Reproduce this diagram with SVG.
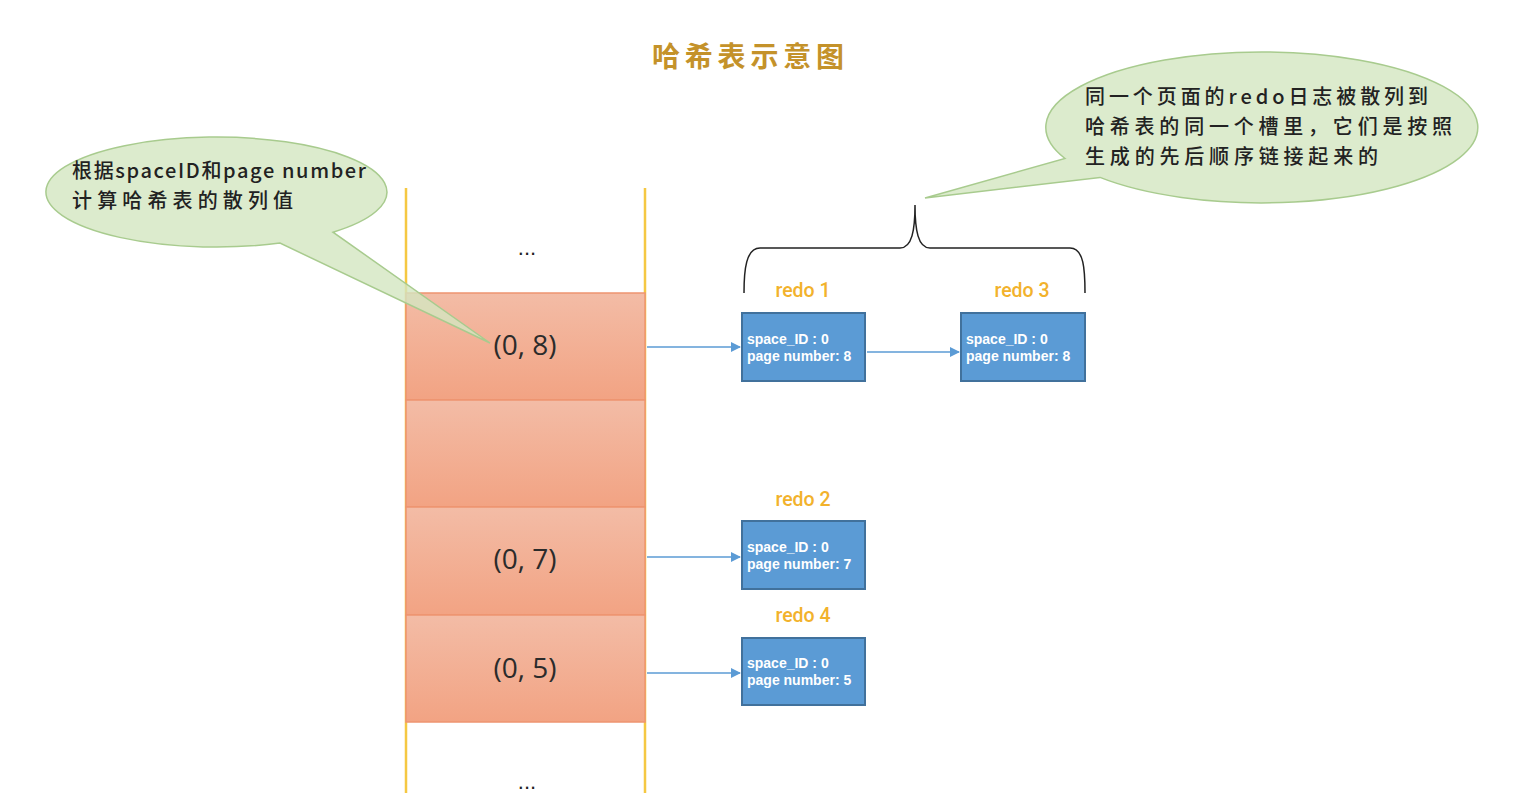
<svg xmlns="http://www.w3.org/2000/svg" width="1533" height="793" viewBox="0 0 1533 793">
<defs>
<linearGradient id="cellGrad" x1="0" y1="0" x2="0" y2="1">
<stop offset="0" stop-color="#F3BCA6"/>
<stop offset="1" stop-color="#F2A383"/>
</linearGradient>
<marker id="arrow" viewBox="0 0 10 10" refX="9" refY="5" markerWidth="10" markerHeight="10" markerUnits="userSpaceOnUse" orient="auto">
<path d="M0,0 L10,5 L0,10 z" fill="#5B9BD5"/>
</marker>
</defs>
<style>
.cell{fill:url(#cellGrad);stroke:#EE9470;stroke-width:1.5}
.rail{stroke:#F5C842;stroke-width:2.5}
.box{fill:#5B9BD5;stroke:#41719C;stroke-width:2}
.boxtxt{font-family:"Liberation Sans",Arial,sans-serif;font-size:14px;font-weight:bold;fill:#FFFFFF}
.redo{font-family:Roboto,"Liberation Sans",Arial,sans-serif;font-size:19.5px;font-weight:500;fill:#F2B22C}
.key{font-family:"Open Sans","Liberation Sans",sans-serif;font-size:28px;fill:#2B2B2B;text-anchor:middle}
.dots{font-family:"Liberation Sans",sans-serif;font-size:22px;fill:#222;text-anchor:middle}
.conn{stroke:#5B9BD5;stroke-width:1.3;fill:none;marker-end:url(#arrow)}
.callout{fill:#D3E6C1;fill-opacity:0.8;stroke:#A8CB8E;stroke-width:1.5}
.ctext{font-family:"Noto Sans CJK SC","Noto Sans",sans-serif;font-size:20px;font-weight:500;fill:#222}
</style>
<rect width="1533" height="793" fill="#FFFFFF"/>

<g id="title">
<text x="748" y="67" text-anchor="middle" font-family="'Noto Sans CJK SC',sans-serif" font-size="28" font-weight="bold" fill="#C4922A" textLength="192" lengthAdjust="spacing">哈希表示意图</text>
</g>

<g id="hashtable">
<line class="rail" x1="406" y1="188" x2="406" y2="793"/>
<line class="rail" x1="645" y1="188" x2="645" y2="793"/>
<text class="dots" x="527" y="255">...</text>
<rect class="cell" x="406" y="293" width="239" height="107"/>
<rect class="cell" x="406" y="400" width="239" height="107"/>
<rect class="cell" x="406" y="507" width="239" height="108"/>
<rect class="cell" x="406" y="615" width="239" height="107"/>
<text class="key" x="525" y="355">(0, 8)</text>
<text class="key" x="525" y="569">(0, 7)</text>
<text class="key" x="525" y="678">(0, 5)</text>
<text class="dots" x="527" y="789">...</text>
</g>

<g id="connectors">
<line class="conn" x1="647" y1="347" x2="740" y2="347"/>
<line class="conn" x1="867" y1="352" x2="959" y2="352"/>
<line class="conn" x1="647" y1="557" x2="740" y2="557"/>
<line class="conn" x1="647" y1="673" x2="740" y2="673"/>
</g>

<g id="redo1">
<text class="redo" x="803" y="297" text-anchor="middle">redo 1</text>
<rect class="box" x="742" y="313" width="123" height="68"/>
<text class="boxtxt" x="747" y="344">space_ID : 0</text>
<text class="boxtxt" x="747" y="361">page number: 8</text>
</g>

<g id="redo3">
<text class="redo" x="1022" y="297" text-anchor="middle">redo 3</text>
<rect class="box" x="961" y="313" width="124" height="68"/>
<text class="boxtxt" x="966" y="344">space_ID : 0</text>
<text class="boxtxt" x="966" y="361">page number: 8</text>
</g>

<g id="redo2">
<text class="redo" x="803" y="506" text-anchor="middle">redo 2</text>
<rect class="box" x="742" y="521" width="123" height="68"/>
<text class="boxtxt" x="747" y="552">space_ID : 0</text>
<text class="boxtxt" x="747" y="569">page number: 7</text>
</g>

<g id="redo4">
<text class="redo" x="803" y="622" text-anchor="middle">redo 4</text>
<rect class="box" x="742" y="638" width="123" height="67"/>
<text class="boxtxt" x="747" y="668">space_ID : 0</text>
<text class="boxtxt" x="747" y="685">page number: 5</text>
</g>

<g id="brace">
<path d="M744,293 C744,270 746,248 760,248 L900,248 C912,248 915,230 915,205 C915,230 918,248 930,248 L1070,248 C1084,248 1085,270 1085,293" fill="none" stroke="#222" stroke-width="1.5"/>
</g>

<g id="callout-left">
<path class="callout" d="M280,243.1 A170.5,55 0 1 1 333,232.2 L490,343 Z"/>
<text class="ctext" x="72" y="178" textLength="294" lengthAdjust="spacing">根据spaceID和page number</text>
<text class="ctext" x="72" y="208" textLength="221" lengthAdjust="spacing">计算哈希表的散列值</text>
</g>

<g id="callout-right">
<path class="callout" d="M1065,158.5 A216,75.5 0 1 1 1100,177.4 L925,198 Z"/>
<text class="ctext" x="1085" y="104" font-size="21" textLength="343" lengthAdjust="spacing">同一个页面的redo日志被散列到</text>
<text class="ctext" x="1085" y="134" font-size="21" textLength="367" lengthAdjust="spacing">哈希表的同一个槽里，它们是按照</text>
<text class="ctext" x="1085" y="164" font-size="21" textLength="293" lengthAdjust="spacing">生成的先后顺序链接起来的</text>
</g>
</svg>
